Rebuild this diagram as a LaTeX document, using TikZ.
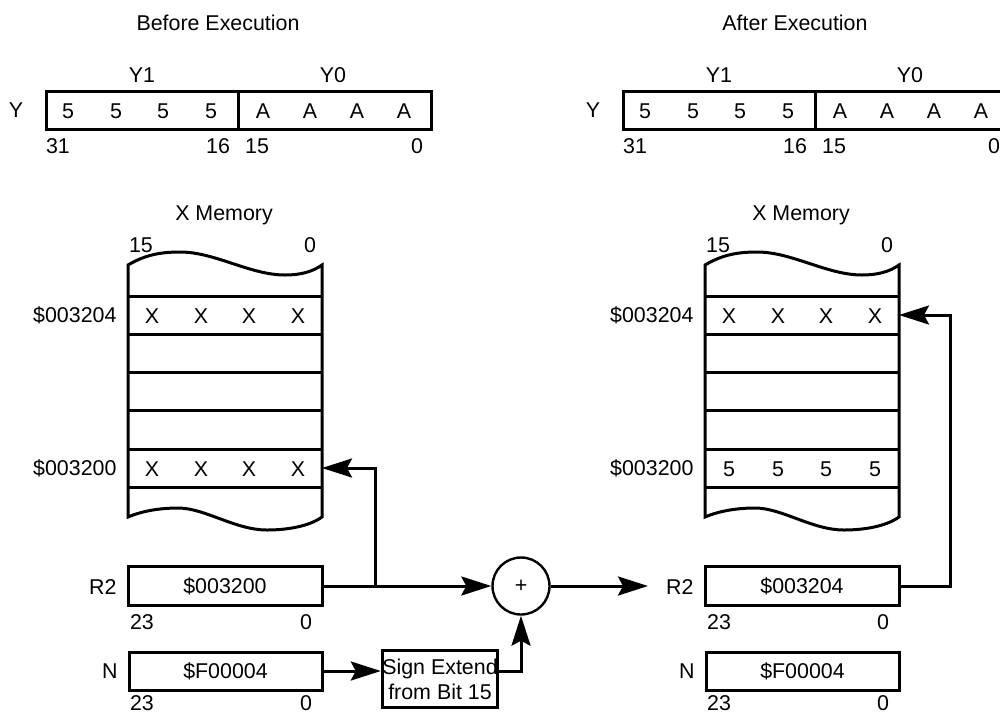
\documentclass[tikz,border=0pt]{standalone}
\usepackage{fontspec}
\setmainfont{Liberation Sans}
\usetikzlibrary{arrows.meta}
\tikzset{
  lbl/.style={inner sep=0pt, text height=7.66pt, text depth=0pt},
  regbox/.style={draw, line width=1.5pt, inner sep=0pt, text height=7.66pt, text depth=0pt},
  arr/.style={line width=1.5pt, -{Stealth[length=15pt,width=9.5pt,inset=2.5pt]}},
}
\newcommand{\drawpanel}[5]{%
\begin{scope}[xshift=#2]
  \node[lbl] (#1title) at (218,23) {#3};
  % Y register
  \node[regbox, minimum width=192.5pt, minimum height=19pt] (#1Y) at (238.5,110) {};
  \draw (238,91) -- (238,129);
  \node[lbl] (#1Ylab) at (16,110) {Y};
  \node[lbl] (#1Yone) at (142,75) {Y1};
  \node[lbl] (#1Yzero) at (333,75) {Y0};
  \foreach \x/\t in {68/5,116/5,163/5,211/5,263/A,310/A,357/A,404/A}
    \node[lbl] (#1d\x) at (\x,111) {\t};
  \node[lbl] (#1b31) at (58,146) {31};
  \node[lbl] (#1b16) at (218,146) {16};
  \node[lbl] (#1b15) at (257,146) {15};
  \node[lbl] (#1b0) at (417,146) {0};
  % memory
  \node[lbl] (#1memlab) at (224,213) {X Memory};
  \node[lbl] (#1m15) at (141,245) {15};
  \node[lbl] (#1m0) at (310,245) {0};
  \draw (128,517) -- (128,265)
     .. controls (145,255) and (160,252) .. (180,252)
     .. controls (215,252) and (250,275) .. (285,275)
     .. controls (300,275) and (312,272) .. (322,265)
     -- (322,517)
     .. controls (308,527) and (285,530) .. (267,530)
     .. controls (235,530) and (205,508) .. (178,508)
     .. controls (160,508) and (142,511) .. (128,517) -- cycle;
  \foreach \y in {296,334,372,410,449,487} \draw (128,\y) -- (322,\y);
  \coordinate (#1rowA) at (322,315);
  \coordinate (#1rowB) at (322,468);
  \node[lbl, anchor=east] (#1addrA) at (118,315) {\$003204};
  \node[lbl, anchor=east] (#1addrB) at (118,468) {\$003200};
  \foreach \x in {152,201,249,298} \node[lbl] (#1xa\x) at (\x,316) {X};
  \foreach \x in {152,201,249,298} \node[lbl] (#1xb\x) at (\x,469) {#4};
  % R2
  \node[regbox, minimum width=97pt, minimum height=19.5pt] (#1R2) at (225,586) {#5};
  \node[lbl, anchor=east] (#1R2lab) at (118,587) {R2};
  \node[lbl] (#1r23) at (142,622) {23};
  \node[lbl] (#1r0) at (306,622) {0};
  % N
  \node[regbox, minimum width=96.5pt, minimum height=19pt] (#1N) at (225.5,671) {\$F00004};
  \node[lbl, anchor=east] (#1Nlab) at (119,671) {N};
  \node[lbl] (#1n23) at (142,703) {23};
  \node[lbl] (#1n0) at (306,703) {0};
\end{scope}}
\begin{document}
\begin{tikzpicture}[x=0.5pt,y=-0.5pt,line width=1.5pt,
  font=\fontsize{10.7}{12.5}\selectfont]
\useasboundingbox (0,0) rectangle (1000,713);
\clip (0,0) rectangle (1000,713);
\drawpanel{L}{0pt}{Before Execution}{X}{\$003200}
\drawpanel{R}{288.5pt}{After Execution}{5}{\$003204}
% adder and sign extend
\node[draw, circle, line width=1.2pt, minimum size=28.5pt, inner sep=0pt] (add) at (521,586) {+};
\node[draw, line width=1.5pt, minimum width=57pt, minimum height=28.5pt, inner sep=0pt,
  align=center] (sx) at (440,679) {Sign Extend\\from Bit 15};
\coordinate (br) at (375,586);
\coordinate (rin) at (648,586);
\coordinate (rturn) at (950,315);
\draw[arr] (LR2.east) -- (add.west);
\draw[arr] (br) |- (LrowB);
\draw[arr] (LN.east) -- (LN.east -| sx.west);
\draw[arr] (sx.east |- LN.east) -| (add.south);
\draw[arr] (add.east) -- (rin);
\draw[arr] (RR2.east) -| (rturn) -- (RrowA);
\end{tikzpicture}
\end{document}
